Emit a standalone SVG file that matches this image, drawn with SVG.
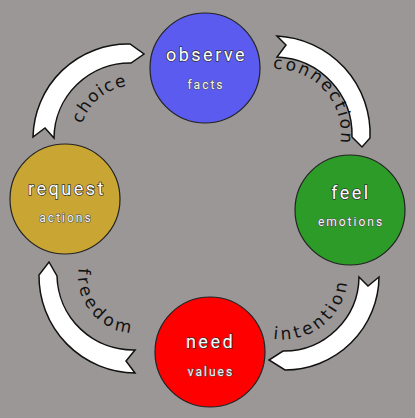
<svg xmlns="http://www.w3.org/2000/svg" width="415" height="418" viewBox="0 0 415 418">
<style>
.bg{fill:#9b9796}
.node{stroke:#222;stroke-width:1.2}
.lbl{font-family:Roboto,"Liberation Sans",sans-serif;font-size:18px;letter-spacing:2.5px;fill:#fff;stroke:#333;stroke-width:1.4px;paint-order:stroke;text-anchor:middle}
.sub{font-family:Roboto,"Liberation Sans",sans-serif;font-size:12px;letter-spacing:2px;fill:#f4f4f4;stroke:#555;stroke-width:1.2px;paint-order:stroke;text-anchor:middle}
.rib{fill:#fff;stroke:#111;stroke-width:1.5;stroke-linejoin:miter}
.arc{font-family:"DejaVu Sans",sans-serif;font-size:17px;fill:#111;text-anchor:middle}
</style>
<defs>
<path id="pChoice" d="M85.64,165.5 A55,55 0 0 1 157.5,90.37" fill="none"/>
<path id="pConn" d="M243.5,77.71 A65,65 0 0 1 332.29,166.5" fill="none"/>
<path id="pInt" d="M250.75,330.86 A64.5,64.5 0 0 0 338.86,242.75" fill="none"/>
<path id="pFree" d="M85.64,247.5 A57,57 0 0 0 163.5,325.36" fill="none"/>
</defs>
<rect class="bg" x="0" y="0" width="415" height="418"/>
<g id="connectors">
<path class="rib" d="M33,137 A95,95 0 0 1 130,44 L144,54 L131,63 A76,76 0 0 0 54,138 L45,128 Z"/>
<path class="rib" d="M277,36 A98,98 0 0 1 370,138 L362,147 L352,137 A78,78 0 0 0 277,57 L286,45 Z"/>
<path class="rib" d="M379,277 A94,94 0 0 1 285,370 L269,360 L283,351 A75,75 0 0 0 359,277 L368,286 Z"/>
<path class="rib" d="M135,373 A97,97 0 0 1 39,275 L49,262 L57,276 A76,76 0 0 0 135,350 L126,361 Z"/>
<text class="arc" letter-spacing="1.3"><textPath href="#pChoice" startOffset="74">choice</textPath></text>
<text class="arc" letter-spacing="2.2"><textPath href="#pConn" startOffset="89">connection</textPath></text>
<text class="arc" letter-spacing="3.4"><textPath href="#pInt" startOffset="77">intention</textPath></text>
<text class="arc" letter-spacing="3.6"><textPath href="#pFree" startOffset="70">freedom</textPath></text>
</g>
<g id="observe">
<circle class="node" cx="205" cy="68" r="55" fill="#5b5bf0"/>
<text class="lbl" x="206.5" y="61">observe</text>
<text class="sub" x="206" y="89">facts</text>
</g>
<g id="feel">
<circle class="node" cx="350" cy="210" r="55" fill="#2c9b28"/>
<text class="lbl" x="351" y="199">feel</text>
<text class="sub" x="351" y="226">emotions</text>
</g>
<g id="need">
<circle class="node" cx="210" cy="352" r="55" fill="#ff0000"/>
<text class="lbl" x="210.5" y="348">need</text>
<text class="sub" x="211" y="376">values</text>
</g>
<g id="request">
<circle class="node" cx="65" cy="199" r="55" fill="#c9a534"/>
<text class="lbl" x="67" y="195">request</text>
<text class="sub" x="66" y="222">actions</text>
</g>
</svg>
